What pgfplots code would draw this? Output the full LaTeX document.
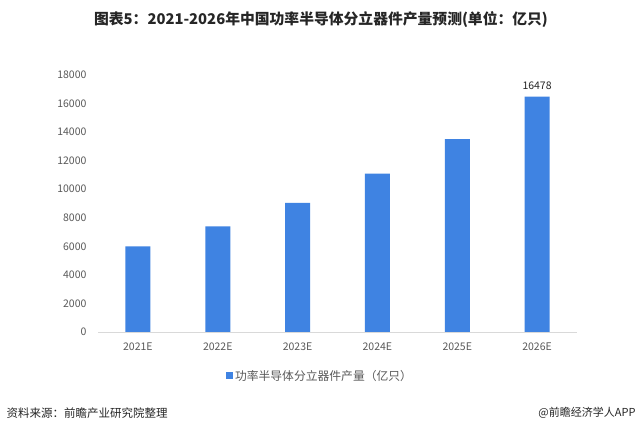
\documentclass[border=0pt]{standalone}
\usepackage{pgfplots}
\pgfplotsset{compat=1.18}
\usepackage{fontspec}
\setmainfont{Noto Sans CJK SC}
\definecolor{barblue}{HTML}{3F83E2}
\definecolor{tickgray}{HTML}{595959}
\definecolor{axisgray}{HTML}{D9D9D9}
\definecolor{titlegray}{HTML}{262626}
\begin{document}
\begin{tikzpicture}
\useasboundingbox (0pt,0pt) rectangle (640pt,436pt);
\fill[white] (0pt,0pt) rectangle (640pt,436pt);
\begin{axis}[
  at={(98pt,104pt)}, anchor=south west, scale only axis,
  width=479pt, height=257pt,
  xmin=-0.5, xmax=5.5, ymin=0, ymax=18000,
  ytick={0,2000,...,18000},
  scaled y ticks=false,
  xtick={0,1,2,3,4,5},
  xticklabels={2021E,2022E,2023E,2024E,2025E,2026E},
  separate axis lines,
  axis x line*=bottom, axis y line*=left,
  x axis line style={draw=axisgray, line width=0.8pt, -},
  y axis line style={draw=none},
  major tick length=0pt,
  tick label style={font=\fontsize{10.5}{12}\selectfont, text=tickgray},
  yticklabel style={xshift=-8pt},
  xticklabel style={yshift=-7pt},
  /pgf/number format/assume math mode=true,
  /pgf/number format/1000 sep={},
  ybar, bar width=25pt,
  legend style={at={(0.4635,-0.171)}, anchor=center, draw=none, fill=none,
    font=\fontsize{11.8}{13}\selectfont, text=tickgray, inner sep=0pt},
  legend image code/.code={\fill[barblue] (0pt,-3.5pt) rectangle (7pt,3.5pt);},
]
\addplot[fill=barblue, draw=none, bar shift=0pt] coordinates {(0,6000) (1,7400) (2,9050) (3,11090) (4,13500) (5,16478)};
\addlegendentry{功率半导体分立器件产量（亿只）}
\addplot[fill=none, draw=none, bar shift=0pt, nodes near coords, forget plot,
  every node near coord/.append style={font=\fontsize{10.5}{12}\selectfont, text=titlegray, yshift=4pt}] coordinates {(5,16478)};
\end{axis}
\node[font=\bfseries\fontsize{14.8}{18}\selectfont, text=titlegray] at (321pt,416pt) {图表5：2021-2026年中国功率半导体分立器件产量预测(单位：亿只)};
\node[anchor=west, font=\fontsize{11.5}{13}\selectfont, text=titlegray] at (3pt,23pt) {资料来源：前瞻产业研究院整理};
\node[anchor=east, font=\fontsize{11}{13}\selectfont, text=titlegray] at (639pt,23pt) {@前瞻经济学人APP};
\end{tikzpicture}
\end{document}
